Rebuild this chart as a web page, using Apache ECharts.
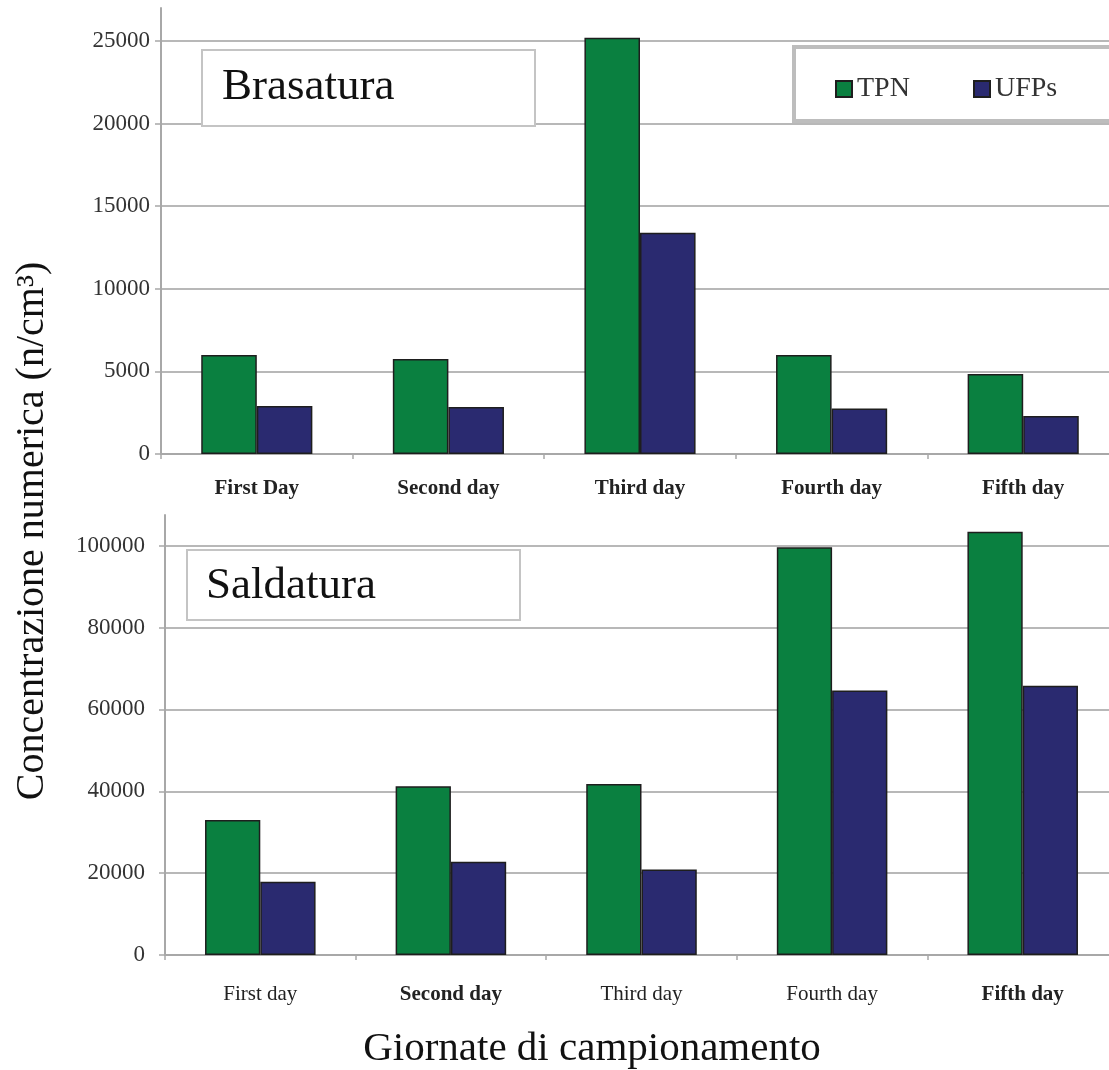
<!DOCTYPE html>
<html>
<head>
<meta charset="utf-8">
<script src="https://cdn.jsdelivr.net/npm/echarts@6/dist/echarts.min.js"></script>
<style>html,body{margin:0;padding:0;background:#fff;overflow:hidden;width:1109px;height:1070px;}#c{width:1130px;height:1070px;}</style>
</head>
<body>
<div id="c"></div>
<script>
// ---- data ----
const topCategories = ['First Day', 'Second day', 'Third day', 'Fourth day', 'Fifth day'];
const bottomCategories = ['First day', 'Second day', 'Third day', 'Fourth day', 'Fifth day'];
const topTPN = [6000, 5750, 25200, 6000, 4850];
const topUFPs = [2900, 2850, 13400, 2750, 2300];
const bottomTPN = [33000, 41200, 41800, 99600, 103400];
const bottomUFPs = [17900, 22800, 20900, 64600, 65800];
const topTicks = [0, 5000, 10000, 15000, 20000, 25000];
const bottomTicks = [0, 20000, 40000, 60000, 80000, 100000];
const topBold = [true, true, true, true, true];
const bottomBold = [false, true, false, false, true];
const seriesNames = ['TPN', 'UFPs'];
const panelTitles = ['Brasatura', 'Saldatura'];
const yTitle = 'Concentrazione numerica (n/cm³)';
const xTitle = 'Giornate di campionamento';

const SERIF = '"Liberation Serif", "Times New Roman", serif';
const GREEN = '#0a8040';
const NAVY = '#2a2a70';
const GRID = '#b8b8b8';
const AXIS = '#a8a8a8';

const chart = echarts.init(document.getElementById('c'));

function catAxis(gridIndex, cats, bold, margin) {
  return {
    type: 'category', gridIndex: gridIndex,
    data: cats.map((c, i) => ({ value: c, textStyle: { fontWeight: bold[i] ? 'bold' : 'normal' } })),
    boundaryGap: true,
    axisLine: { show: true, lineStyle: { color: AXIS, width: 2 } },
    axisTick: { show: true, length: 5, lineStyle: { color: AXIS, width: 1.5 } },
    axisLabel: { fontFamily: SERIF, fontSize: 21, color: '#222', margin: margin },
    splitLine: { show: false }
  };
}
function valAxis(gridIndex, max, interval, ticks, margin) {
  return {
    type: 'value', gridIndex: gridIndex, min: 0, max: max, interval: interval,
    axisLine: { show: true, lineStyle: { color: AXIS, width: 2 } },
    axisTick: { show: true, length: 6, inside: false, customValues: ticks, lineStyle: { color: AXIS, width: 1.5 } },
    axisLabel: { fontFamily: SERIF, fontSize: 23, color: '#333', margin: margin, customValues: ticks,
      formatter: function (v) { return String(v); } },
    splitLine: { show: true, lineStyle: { color: GRID, width: 2 } }
  };
}
function bar(name, color, xi, yi, data) {
  return {
    type: 'bar', name: name, xAxisIndex: xi, yAxisIndex: yi, data: data,
    barGap: '0%', barCategoryGap: '42%',
    itemStyle: { color: color, borderColor: '#1e1e1e', borderWidth: 1.5 },
    emphasis: { disabled: true }
  };
}

chart.setOption({
  animation: false,
  backgroundColor: '#fff',
  grid: [
    { left: 161, right: 11, top: 8, bottom: 616 },
    { left: 165, right: 12, top: 515, bottom: 115 }
  ],
  xAxis: [catAxis(0, topCategories, topBold, 24), catAxis(1, bottomCategories, bottomBold, 29)],
  yAxis: [valAxis(0, 27000, 5000, topTicks, 11), valAxis(1, 107500, 20000, bottomTicks, 20)],
  legend: [
    { data: [seriesNames[0]], left: 835, top: 75, padding: 0, itemWidth: 16, itemHeight: 16, itemGap: 0, z: 10,
      icon: 'rect', textStyle: { fontFamily: SERIF, fontSize: 28, color: '#333' }, selectedMode: false },
    { data: [seriesNames[1]], left: 973, top: 75, padding: 0, itemWidth: 16, itemHeight: 16, itemGap: 0, z: 10,
      icon: 'rect', textStyle: { fontFamily: SERIF, fontSize: 28, color: '#333' }, selectedMode: false }
  ],
  series: [
    bar(seriesNames[0], GREEN, 0, 0, topTPN),
    bar(seriesNames[1], NAVY, 0, 0, topUFPs),
    bar(seriesNames[0], GREEN, 1, 1, bottomTPN),
    bar(seriesNames[1], NAVY, 1, 1, bottomUFPs)
  ],
  graphic: [
    { type: 'rect', z: 5, shape: { x: 202, y: 50, width: 333, height: 76 },
      style: { fill: '#fff', stroke: '#c4c4c4', lineWidth: 2 } },
    { type: 'text', z: 6, x: 222, y: 87,
      style: { text: panelTitles[0], font: '45px ' + SERIF, fill: '#111', textVerticalAlign: 'middle' } },
    { type: 'rect', z: 5, shape: { x: 187, y: 550, width: 333, height: 70 },
      style: { fill: '#fff', stroke: '#c4c4c4', lineWidth: 2 } },
    { type: 'text', z: 6, x: 206, y: 586,
      style: { text: panelTitles[1], font: '45px ' + SERIF, fill: '#111', textVerticalAlign: 'middle' } },
    { type: 'rect', z: 5, shape: { x: 794, y: 47, width: 340, height: 74 },
      style: { fill: '#fff', stroke: '#bdbdbd', lineWidth: 4 } },
    { type: 'text', z: 6, x: 32, y: 531, rotation: Math.PI / 2,
      style: { text: yTitle, font: '40px ' + SERIF, fill: '#111', textAlign: 'center', textVerticalAlign: 'middle' } },
    { type: 'text', z: 6, x: 592, y: 1049,
      style: { text: xTitle, font: '41px ' + SERIF, fill: '#111', textAlign: 'center', textVerticalAlign: 'middle' } }
  ]
});
</script>
</body>
</html>
